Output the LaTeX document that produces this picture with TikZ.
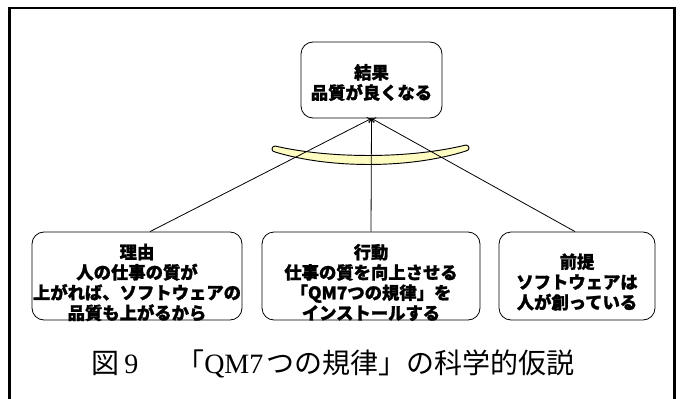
\documentclass[tikz,border=0pt]{standalone}
\usepackage{fontspec}
\setmainfont{Liberation Serif}
\newfontfamily\jp{Noto Sans CJK JP}[BoldFeatures={FakeBold=1.2}]
\usetikzlibrary{arrows.meta}
\begin{document}
\begin{tikzpicture}[x=0.75pt,y=-0.75pt,
  box/.style={draw,rounded corners=9pt,line width=0.6pt,minimum width=#1,minimum height=66pt,inner sep=0pt},
  txt/.style={align=center,font=\jp\bfseries\fontsize{13pt}{15.2pt}\selectfont,inner sep=0pt},
  conn/.style={line width=0.6pt,-{To[length=3pt,width=5pt]}},
  moon/.style={draw,line width=0.7pt,fill=yellow!24}]
\useasboundingbox (0,0) rectangle (681,399);
\draw[line width=1.6pt] (9.5,420) -- (9.5,8) -- (674.5,8) -- (674.5,420);
% result box
\node[box=105.75pt,minimum height=57pt] (result) at (371.5,80) {};
\node[txt] (resultT) at (371.5,82.5) {結果\\品質が良くなる};
% bottom boxes
\node[box=157.5pt] (reason) at (137,276) {};
\node[txt] (reasonT) at (137,282.5) {理由\\人の仕事の質が\\上がれば、ソフトウェアの\\品質も上がるから};
\node[box=163.5pt] (action) at (371,276) {};
\node[txt] (actionT) at (371,282.5) {行動\\仕事の質を向上させる\\「QM7つの規律」を\\インストールする};
\node[box=117pt] (premise) at (577,276) {};
\node[txt] (premiseT) at (577,282) {前提\\ソフトウェアは\\人が創っている};
% crescent
\filldraw[moon] (275,146) .. controls (330,158.8) and (410,158.8) .. (466,145)
  .. controls (470,145.5) and (470,150.5) .. (466,151)
  .. controls (410,168.8) and (330,168.8) .. (275,152)
  .. controls (271,151.5) and (271,146.5) .. cycle;
% connectors
\coordinate (tip) at (result.south);
\draw[conn] ([xshift=9.75pt]reason.north) -- (tip);
\draw[conn] (action.north) -- (tip);
\draw[conn] ([xshift=-1.5pt]premise.north) -- (tip);
% caption
\node[anchor=west,inner sep=0pt,font=\fontsize{21pt}{23pt}\selectfont] (caption) at (91,364)
  {{\jp 図}\hspace{3.75pt}9\hspace{28.5pt}{\jp 「}QM7\hspace{2pt}{\jp つの規律」の科学的仮説}};
\end{tikzpicture}
\end{document}
